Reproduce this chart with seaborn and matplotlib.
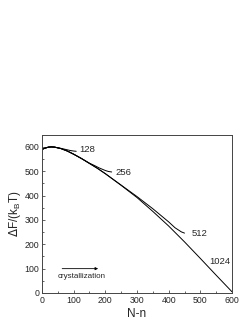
import matplotlib
matplotlib.use("Agg")
import matplotlib.pyplot as plt
import seaborn as sns
import pandas as pd
from matplotlib.ticker import MultipleLocator

# free energy curves, one per system size
x_1024 = [0, 10, 20, 30, 40, 60, 80, 100, 125, 150, 175, 200, 250, 300, 350, 400, 450, 500, 550, 600]
y_1024 = [590, 595, 599, 600, 599, 593, 583, 570, 552, 532, 512, 490, 442, 392, 335, 275, 210, 142, 73, 5]

x_128 = [0, 10, 20, 30, 40, 60, 70, 80, 90, 100, 108]
y_128 = [590, 595, 599, 600, 599, 594, 591, 588, 585, 583, 582]

x_256 = [0, 10, 20, 30, 40, 60, 80, 100, 125, 150, 165, 180, 200, 210, 220]
y_256 = [590, 595, 599, 600, 599, 593, 583, 570, 552, 533, 524, 514, 503, 499, 497]

x_512 = [0, 10, 20, 30, 40, 60, 80, 100, 125, 150, 175, 200, 250, 300, 350, 400, 420, 440, 450]
y_512 = [590, 595, 599, 600, 599, 593, 583, 570, 552, 532, 512, 490, 443, 396, 346, 292, 268, 251, 246]

labels = ["128", "256", "512", "1024"]
label_x = [117, 232, 472, 528]
label_y = [590, 495, 245, 128]

frames = []
for name, xs, ys in [("128", x_128, y_128), ("256", x_256, y_256),
                     ("512", x_512, y_512), ("1024", x_1024, y_1024)]:
    frames.append(pd.DataFrame({"Nn": xs, "F": ys, "N": name}))
df = pd.concat(frames, ignore_index=True)

sns.set_style("ticks")
plt.rcParams["font.family"] = ["Liberation Sans", "DejaVu Sans"]

fig = plt.figure(figsize=(2.53, 3.27), dpi=100)
ax = fig.add_axes([0.166, 0.104, 0.751, 0.484])

sns.lineplot(data=df, x="Nn", y="F", units="N", estimator=None, sort=False,
             color="black", linewidth=0.7, ax=ax)

for lab, lx, ly in zip(labels, label_x, label_y):
    ax.text(lx, ly, lab, fontsize=6.8, va="center", ha="left")

ax.annotate("", xy=(186, 100), xytext=(55, 100),
            arrowprops=dict(arrowstyle="-|>", color="black", lw=0.6,
                            mutation_scale=4))
ax.text(50, 68, "crystallization", fontsize=5.8, va="center", ha="left")

ax.set_xlim(0, 600)
ax.set_ylim(0, 650)
ax.xaxis.set_major_locator(MultipleLocator(100))
ax.xaxis.set_minor_locator(MultipleLocator(50))
ax.yaxis.set_major_locator(MultipleLocator(100))
ax.yaxis.set_minor_locator(MultipleLocator(50))
ax.tick_params(which="both", direction="in", labelsize=6.3, width=0.5, pad=2)
ax.tick_params(which="major", length=2.5)
ax.tick_params(which="minor", length=1.5)
for sp in ax.spines.values():
    sp.set_linewidth(0.7)
    sp.set_color("#444444")

ax.set_xlabel("N-n", fontsize=8.5, labelpad=2)
ax.set_ylabel(r"$\Delta$F/(k$_\mathregular{B}$T)", fontsize=8.5, labelpad=1)

fig.savefig("out.png", dpi=100)
